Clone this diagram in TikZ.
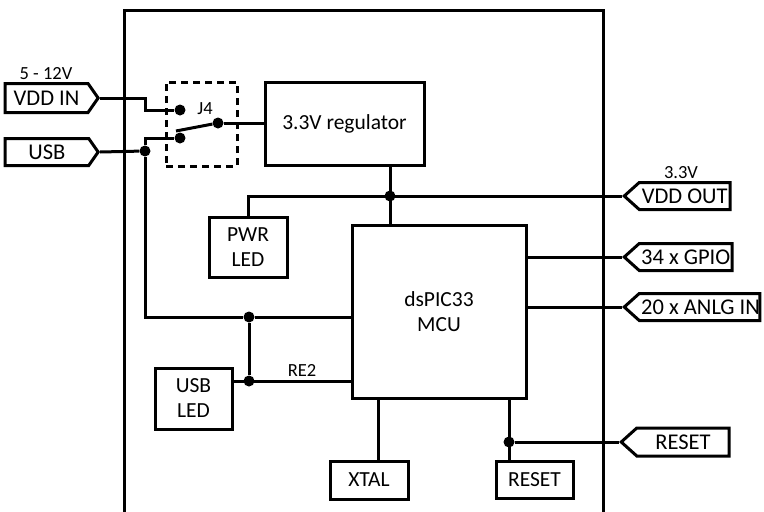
\documentclass[tikz,border=0pt]{standalone}
\usepackage{fontspec}
\setmainfont{Carlito}
\usetikzlibrary{shapes.symbols,positioning,calc}
\tikzset{%
  % Specifications for style of nodes:
        base/.style = {rectangle, draw=black, line width=3pt,
                       text centered, align=center, inner sep=0pt,
                       font=\fontsize{21.5}{25}\selectfont},
       block/.style = {base},
        port/.style = {signal, draw=black, line width=3pt, inner sep=0pt,
                       font=\fontsize{22.5}{25}\selectfont,
                       minimum height=27pt},
      portin/.style = {port, signal to=east, signal from=nowhere,
                       signal pointer angle=110, anchor=east},
     portout/.style = {port, signal to=west, signal from=nowhere,
                       signal pointer angle=84, anchor=west},
         dot/.style = {circle, fill=black, inner sep=0pt, minimum size=11pt},
        note/.style = {font=\fontsize{18.5}{21}\selectfont, inner sep=0pt},
        wire/.style = {line width=3pt},
}
\begin{document}
\begin{tikzpicture}[x=1pt, y=-1pt]
\useasboundingbox (0,0) rectangle (764,512);

% board outline
\draw[wire] (124,512) -- (124,10) -- (603,10) -- (603,512);

% power input side
\node (VDDIN)  [portin, minimum width=93pt, minimum height=29pt] at (100,98)  {VDD IN\hspace{8pt}};
\node (VIN)    [note]                       at (46,74)   {5 - 12V};
\node (USB)    [portin, minimum width=93pt] at (100,152) {USB\hspace{10pt}};

\node (J4box)  [base, dash pattern=on 7pt off 5pt, minimum width=71pt, minimum height=84pt] at (201.5,124) {};
\node (J4)     [note]                       at (205,109) {J4};
\node (J4in)   [dot] at (180,110) {};
\node (J4usb)  [dot] at (180,138) {};
\node (J4out)  [dot] at (218,123) {};
\node (USBj)   [dot] at (145,151) {};
\coordinate (SW) at (176,131);

\node (REG)    [block, minimum width=159pt, minimum height=83pt] at (344.5,123.5) {3.3V regulator};
\node (PWRj)   [dot] at (390,196) {};
\node (PWR)    [block, minimum width=78pt, minimum height=60pt]  at (248,247) {PWR\\LED};

% microcontroller and parts round it
\node (MCU)    [block, minimum width=174pt, minimum height=173pt] at (439,311.5) {dsPIC33\\MCU};
\node (LEDj)   [dot] at (249,317) {};
\node (RE2j)   [dot] at (249,381) {};
\node (RE2)    [note] at (302,370) {RE2};
\node (USBLED) [block, minimum width=77pt, minimum height=61pt] at (193.5,398.5) {USB\\LED};
\node (XTAL)   [block, minimum width=78pt, minimum height=38pt] at (369,480) {XTAL};
\node (RSTbox) [block, minimum width=77pt, minimum height=37pt] at (534.5,479.5) {RESET};
\node (RSTj)   [dot] at (509,442) {};

% ports on the right
\node (VDDOUT) [portout, minimum width=106pt] at (622,196) {VDD OUT\hspace{3pt}};
\node (V33)    [note] at (681,173) {3.3V};
\node (GPIO)   [portout, minimum width=108pt] at (622,257) {34 x GPIO\hspace{3pt}};
\node (ANLG)   [portout] at (622,307) {\hspace{2pt}20 x ANLG IN\hspace{60pt}};
\node (RSTin)  [portout, minimum width=108pt, minimum height=28pt] at (619,442) {RESET};

\draw[wire] (VDDIN.east) -- ++(45,0) |- (J4in);
\draw[wire] (USB.east) -- (USBj);
\draw[wire] (USBj) |- (J4usb);
\draw[wire] (SW) -- (J4out);
\draw[wire] (J4out) -- (J4out -| REG.west);
\draw[wire] (USBj) |- (LEDj) -- (LEDj -| MCU.west);
\draw[wire] (LEDj) -- (RE2j);
\draw[wire] (RE2j -| USBLED.east) -- (RE2j -| MCU.west);
\draw[wire] (PWRj |- REG.south) -- (PWRj |- MCU.north);
\draw[wire] (PWR.north) |- (VDDOUT.west);
\draw[wire] (GPIO.west -| MCU.east) -- (GPIO.west);
\draw[wire] (ANLG.west -| MCU.east) -- (ANLG.west);
\draw[wire] ($(XTAL.north)+(9,0)$) -- ($(XTAL.north |- MCU.south)+(9,0)$);
\draw[wire] (RSTj |- MCU.south) -- (RSTj |- RSTbox.north);
\draw[wire] (RSTj) -- (RSTin.west);
\end{tikzpicture}
\end{document}
